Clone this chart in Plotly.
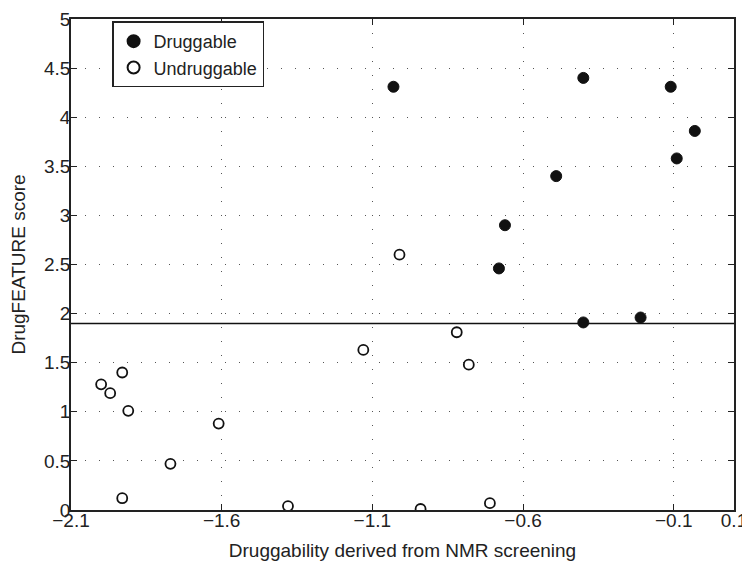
import plotly.graph_objects as go

# Druggable (filled)
drug_x = [-1.03, -0.40, -0.11, -0.03, -0.09, -0.49, -0.66, -0.68, -0.40, -0.21]
drug_y = [4.31, 4.40, 4.31, 3.86, 3.58, 3.40, 2.90, 2.46, 1.91, 1.96]

# Undruggable (open)
undrug_x = [-1.01, -0.82, -0.78, -0.94, -0.71, -1.13, -2.00, -1.97, -1.93, -1.91,
            -1.61, -1.77, -1.93, -1.38]
undrug_y = [2.60, 1.81, 1.48, 0.01, 0.07, 1.63, 1.28, 1.19, 1.40, 1.01,
            0.88, 0.47, 0.12, 0.04]

threshold = 1.9
x_ticks = [-2.1, -1.6, -1.1, -0.6, -0.1, 0.1]
y_ticks = [0, 0.5, 1, 1.5, 2, 2.5, 3, 3.5, 4, 4.5, 5]
y_ticktext = ["0", "0.5", "1", "1.5", "2", "2.5", "3", "3.5", "4", "4.5", "5"]

FONT = "Liberation Sans, Arial, Helvetica, sans-serif"
INK = "#222222"

fig = go.Figure()
fig.add_trace(go.Scatter(
    x=drug_x, y=drug_y, mode="markers", name="Druggable",
    marker=dict(size=11, color="#111111", line=dict(color="#111111", width=1)),
))
fig.add_trace(go.Scatter(
    x=undrug_x, y=undrug_y, mode="markers", name="Undruggable",
    marker=dict(size=10, color="white", line=dict(color="#111111", width=1.8)),
))

fig.add_shape(type="line", xref="paper", x0=0, x1=1, yref="y", y0=threshold, y1=threshold,
              line=dict(color="#111111", width=1.5))

axis_common = dict(
    showline=True, linecolor=INK, linewidth=1.5, mirror="ticks",
    ticks="inside", ticklen=6, tickcolor=INK, tickwidth=1.2,
    showgrid=True, gridcolor="#555555", gridwidth=1, griddash="1px,13px",
    zeroline=False, tickfont=dict(size=19, color=INK, family=FONT),
    automargin=False, ticklabeloverflow="allow",
)

fig.update_xaxes(range=[-2.1, 0.1], tickvals=x_ticks,
                 ticktext=[("−" + f"{abs(v):g}") if v < 0 else f"{v:g}" for v in x_ticks],
                 ticklabelstandoff=-8,
                 title=dict(text="Druggability derived from NMR screening",
                            font=dict(size=19, color=INK, family=FONT), standoff=14),
                 **axis_common)
fig.update_yaxes(range=[0, 5], tickvals=y_ticks, ticktext=y_ticktext,
                 ticklabelstandoff=-5,
                 title=dict(text="DrugFEATURE score",
                            font=dict(size=19, color=INK, family=FONT), standoff=16),
                 **axis_common)

fig.update_layout(
    width=742, height=556,
    margin=dict(l=63, r=16, t=11, b=54, autoexpand=False),
    plot_bgcolor="white", paper_bgcolor="white",
    font=dict(family=FONT, color=INK),
    legend=dict(x=0.062, y=0.995, xanchor="left", yanchor="top",
                bordercolor=INK, borderwidth=1.5, bgcolor="white",
                font=dict(size=18, color=INK, family=FONT),
                itemsizing="constant", tracegroupgap=4),
    showlegend=True,
)

fig.write_html("out.html")
